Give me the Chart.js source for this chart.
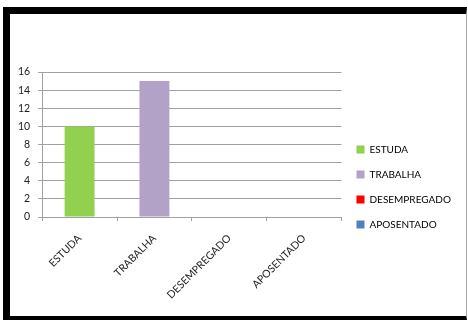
<!DOCTYPE html>
<html>
<head>
<meta charset="utf-8">
<script src="https://cdn.jsdelivr.net/npm/chart.js@4.4.1/dist/chart.umd.min.js"></script>
<style>
  html, body { margin: 0; padding: 0; background: #fff; }
  #wrap { position: relative; width: 468px; height: 320px; overflow: hidden; }
  #wrap canvas { position: absolute; left: 0; top: 0; }
  .frame { position: absolute; left: 3px; top: 7px; width: 456px; height: 302px;
    border-left: 7px solid #000; border-top: 7px solid #000; border-bottom: 4px solid #000;
    border-right: 1px solid #aaa; pointer-events: none; }
</style>
</head>
<body>
<div id="wrap">
  <canvas id="chart" width="468" height="320"></canvas>
  <div class="frame"></div>
</div>
<script>
const categories = ["ESTUDA", "TRABALHA", "DESEMPREGADO", "APOSENTADO"];
const values = [10, 15, 0, 0];
const yTicks = [0, 2, 4, 6, 8, 10, 12, 14, 16];
const barColors = ["#92D050", "#B3A2C7", "#FF0000", "#4F81BD"];

const family = "Lato, 'Liberation Sans', sans-serif";
const tickFont = { family, size: 10.5 };
const legendFont = { family, size: 10 };
const gridColor = "#a0a0a0";

new Chart(document.getElementById("chart"), {
  type: "bar",
  data: {
    labels: categories,
    datasets: [{ data: values, backgroundColor: barColors, categoryPercentage: 1, barPercentage: 0.4 }],
  },
  options: {
    responsive: false,
    animation: false,
    layout: { padding: { left: 10, top: 72, right: 16, bottom: 18 } },
    plugins: {
      tooltip: { enabled: false },
      legend: {
        position: "right",
        labels: {
          font: legendFont, color: "#222", boxWidth: 8, boxHeight: 8, padding: 15,
          generateLabels: () => categories.map((c, i) => ({
            text: c, fillStyle: barColors[i], strokeStyle: barColors[i], lineWidth: 0, index: i,
          })),
        },
      },
    },
    scales: {
      x: {
        afterFit: (s) => { s.height = 85; },
        grid: { drawOnChartArea: false, color: gridColor, tickLength: 4 },
        border: { color: gridColor },
        ticks: { font: tickFont, color: "#222", minRotation: 45, maxRotation: 45, padding: 11 },
      },
      y: {
        min: 0, max: 16,
        afterBuildTicks: (s) => { s.ticks = yTicks.map((v) => ({ value: v })); },
        grid: { color: gridColor, tickLength: 4 },
        border: { color: gridColor },
        ticks: { font: tickFont, color: "#222", padding: 8 },
      },
    },
  },
});
</script>
</body>
</html>
